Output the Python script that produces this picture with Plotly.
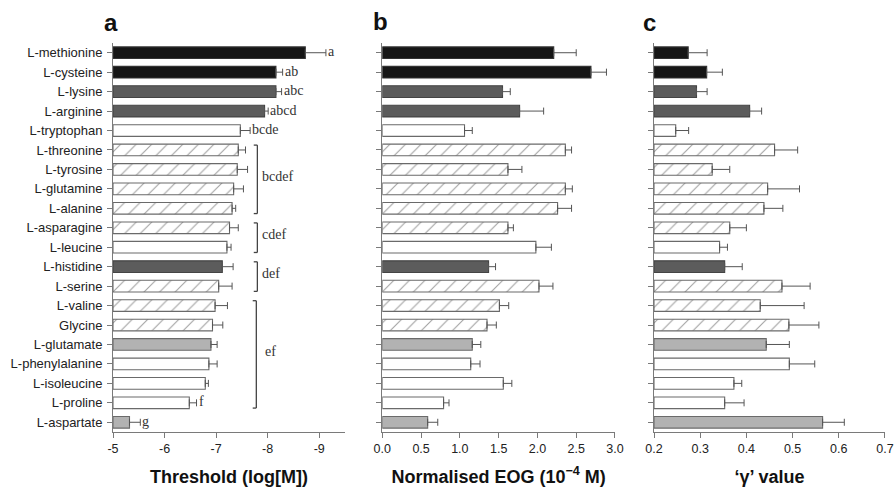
import plotly.graph_objects as go

# ---------------- data ----------------
amino_acids = ["L-methionine", "L-cysteine", "L-lysine", "L-arginine", "L-tryptophan",
               "L-threonine", "L-tyrosine", "L-glutamine", "L-alanine", "L-asparagine",
               "L-leucine", "L-histidine", "L-serine", "L-valine", "Glycine",
               "L-glutamate", "L-phenylalanine", "L-isoleucine", "L-proline", "L-aspartate"]

fill_group = ["black", "black", "dark", "dark", "white",
              "hatch", "hatch", "hatch", "hatch", "hatch",
              "white", "dark", "hatch", "hatch", "hatch",
              "light", "white", "white", "white", "light"]

threshold = [-8.73, -8.16, -8.16, -7.94, -7.47, -7.43, -7.41, -7.34, -7.31, -7.26,
             -7.21, -7.12, -7.05, -6.98, -6.93, -6.90, -6.86, -6.79, -6.48, -5.32]
threshold_err = [0.40, 0.13, 0.11, 0.07, 0.19, 0.14, 0.20, 0.19, 0.07, 0.17,
                 0.08, 0.21, 0.26, 0.24, 0.20, 0.12, 0.16, 0.06, 0.14, 0.21]
sig_letters = ["a", "ab", "abc", "abcd", "bcde", "", "", "", "", "",
               "", "", "", "", "", "", "", "", "f", "g"]
bracket_groups = [("bcdef", 5, 8), ("cdef", 9, 10), ("def", 11, 12), ("ef", 13, 18)]

eog = [2.21, 2.69, 1.55, 1.77, 1.06, 2.36, 1.62, 2.36, 2.26, 1.62,
       1.98, 1.37, 2.02, 1.51, 1.35, 1.16, 1.14, 1.56, 0.79, 0.585]
eog_err = [0.29, 0.20, 0.10, 0.31, 0.10, 0.08, 0.18, 0.09, 0.18, 0.07,
           0.20, 0.09, 0.18, 0.12, 0.12, 0.11, 0.12, 0.11, 0.07, 0.13]

gamma = [0.274, 0.314, 0.292, 0.407, 0.247, 0.461, 0.326, 0.446, 0.438, 0.364,
         0.342, 0.353, 0.477, 0.430, 0.492, 0.443, 0.493, 0.373, 0.353, 0.565]
gamma_err = [0.041, 0.034, 0.023, 0.026, 0.028, 0.050, 0.038, 0.069, 0.041, 0.036,
             0.017, 0.038, 0.061, 0.095, 0.065, 0.050, 0.055, 0.017, 0.042, 0.047]

threshold_ticks = [-5, -6, -7, -8, -9]
threshold_ticktext = ["-5", "-6", "-7", "-8", "-9"]

# ---------------- styles ----------------
FONT = "Liberation Sans, Arial, sans-serif"
SERIF = "Liberation Serif, Times New Roman, serif"
fill_colors = {"black": "#161616", "dark": "#5c5c5c", "white": "#ffffff",
               "hatch": "#ffffff", "light": "#b2b2b2"}
line_colors = {"black": "#333333", "dark": "#444444", "white": "#6a6a6a",
               "hatch": "#6a6a6a", "light": "#6a6a6a"}
bar_colors = [fill_colors[g] for g in fill_group]
bar_lines = [line_colors[g] for g in fill_group]
bar_patterns = ["/" if g == "hatch" else "" for g in fill_group]

# the page body margin is removed (see post_script), so the figure fills the window
W, H = 895, 487


def fx(px):
    return px / W


def fy(py):
    return 1 - py / H


ydom = [fy(432), fy(43)]
dom_a = [fx(113), fx(345)]
dom_b = [fx(382.3), fx(615)]
dom_c = [fx(654), fx(885)]

marker = dict(color=bar_colors, line=dict(color=bar_lines, width=1.1),
              pattern=dict(shape=bar_patterns, fillmode="overlay", fgcolor="#555555",
                           size=11, solidity=0.1))
err_style = dict(color="#555555", thickness=1, width=3.5)

fig = go.Figure()

base_a = -5
fig.add_trace(go.Bar(
    y=amino_acids, x=[t - base_a for t in threshold], base=base_a, orientation="h",
    marker=marker, width=0.6,
    error_x=dict(type="data", symmetric=False, array=[0] * len(threshold),
                 arrayminus=threshold_err, **err_style),
    xaxis="x", yaxis="y", showlegend=False))

fig.add_trace(go.Bar(
    y=amino_acids, x=eog, orientation="h", marker=marker, width=0.6,
    error_x=dict(type="data", symmetric=False, array=eog_err,
                 arrayminus=[0] * len(eog), **err_style),
    xaxis="x2", yaxis="y2", showlegend=False))

base_c = 0.2
fig.add_trace(go.Bar(
    y=amino_acids, x=[g - base_c for g in gamma], base=base_c, orientation="h",
    marker=marker, width=0.6,
    error_x=dict(type="data", symmetric=False, array=gamma_err,
                 arrayminus=[0] * len(gamma), **err_style),
    xaxis="x3", yaxis="y3", showlegend=False))

annotations = []
# significance letters next to individual bars
for name, t, e, lab in zip(amino_acids, threshold, threshold_err, sig_letters):
    if lab:
        annotations.append(dict(x=t - e, y=name, xref="x", yref="y", text=lab,
                                showarrow=False, xanchor="left", xshift=0, yshift=1,
                                font=dict(family=SERIF, size=14, color="#333333")))

shapes = []
for lab, i0, i1 in bracket_groups:
    xv = -7.80 if lab != "ef" else -7.78
    xt = xv + 0.07
    y0, y1 = i0 - 0.25, i1 + 0.27
    bl = dict(color="#444444", width=1.3)
    shapes.append(dict(type="line", xref="x", yref="y", x0=xv, x1=xv, y0=y0, y1=y1, line=bl))
    shapes.append(dict(type="line", xref="x", yref="y", x0=xt, x1=xv, y0=y0, y1=y0, line=bl))
    shapes.append(dict(type="line", xref="x", yref="y", x0=xt, x1=xv, y0=y1, y1=y1, line=bl))
    annotations.append(dict(x=xv, y=(y0 + y1) / 2, xref="x", yref="y", text=lab,
                            showarrow=False, xanchor="left",
                            xshift=3 if lab != "ef" else 7, yshift=3,
                            font=dict(family=SERIF, size=14, color="#333333")))

# panel letters
for lab, px, py in [("a", 111, 22), ("b", 380, 21), ("c", 649, 23)]:
    annotations.append(dict(x=fx(px), y=fy(py), xref="paper", yref="paper", text=lab,
                            showarrow=False, xanchor="center", yanchor="middle",
                            font=dict(family=FONT, size=24, color="#111111", weight="bold")))

axis_common = dict(showline=True, linecolor="#7a7a7a", linewidth=1, showgrid=False,
                   zeroline=False, ticks="outside", tickcolor="#7a7a7a", ticklen=5,
                   automargin=False, ticklabeloverflow="allow",
                   tickfont=dict(family=FONT, size=12.5, color="#222222"))
title_font = dict(family=FONT, size=18, color="#111111", weight="bold")

ycommon = dict(axis_common, type="category", categoryarray=amino_acids,
               range=[19.5, -0.5], domain=ydom, ticklen=5,
               tickfont=dict(family=FONT, size=13, color="#222222"))

fig.update_layout(
    width=W, height=H, margin=dict(l=0, r=0, t=0, b=0, autoexpand=False),
    paper_bgcolor="white", plot_bgcolor="white",
    font=dict(family=FONT, color="#222222"),
    bargap=0.4, showlegend=False, hovermode=False,
    xaxis=dict(axis_common, domain=dom_a, anchor="y", range=[-5, -9.5],
               tickvals=threshold_ticks, ticktext=threshold_ticktext,
               title=dict(text="Threshold (log[M])", font=title_font, standoff=15)),
    yaxis=dict(ycommon, anchor="x", showticklabels=True, ticklabelstandoff=2),
    xaxis2=dict(axis_common, domain=dom_b, anchor="y2", range=[0, 3.0001], dtick=0.5,
                tickformat=".1f",
                title=dict(text="Normalised EOG (10<sup>−4</sup> M)", font=title_font, standoff=15)),
    yaxis2=dict(ycommon, anchor="x2", showticklabels=False),
    xaxis3=dict(axis_common, domain=dom_c, anchor="y3", range=[0.2, 0.7001], dtick=0.1,
                tickformat=".1f",
                title=dict(text="‘γ’ value", font=title_font, standoff=15)),
    yaxis3=dict(ycommon, anchor="x3", showticklabels=False),
    annotations=annotations, shapes=shapes,
)

fig.write_html("out.html",
               config={"displayModeBar": False, "staticPlot": True},
               post_script="document.body.style.margin='0px';"
                           "document.body.style.overflow='hidden';")
